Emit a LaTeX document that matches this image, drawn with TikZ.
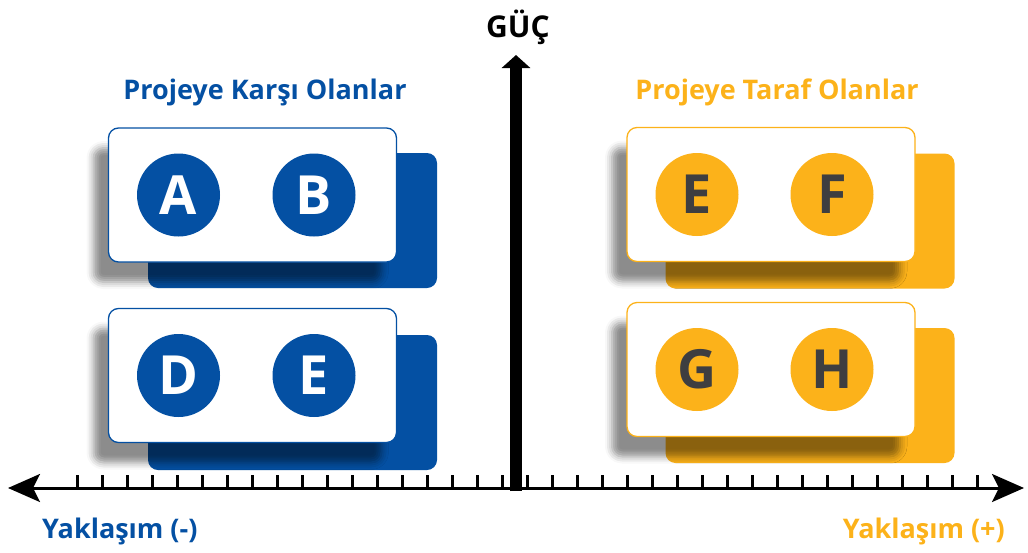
\documentclass[tikz,border=0pt]{standalone}
\usepackage{fontspec}
\setmainfont{Open Sans}
\usetikzlibrary{arrows.meta,positioning,shadows.blur}
\definecolor{stakeBlue}{RGB}{4,80,163}
\definecolor{stakeGold}{RGB}{252,178,26}
\definecolor{letterInk}{RGB}{62,62,64}
\tikzset{
  backpanel/.style={fill=#1, rounded corners=10pt, minimum width=289pt, minimum height=135pt, inner sep=0pt},
  card/.style={draw=#1, line width=1.3pt, fill=white, rounded corners=10pt, minimum width=288pt, minimum height=134pt, inner sep=0pt,
    blur shadow={shadow xshift=-15pt, shadow yshift=-20pt, shadow opacity=45, shadow blur radius=7pt}},
  badge/.style={circle, fill=#1, minimum size=83pt, inner sep=0pt, font=\fontsize{54}{54}\selectfont\bfseries},
  grouptitle/.style={anchor=base, inner sep=0pt, font=\fontsize{27}{27}\selectfont\bfseries},
  axislabel/.style={inner sep=0pt, font=\fontsize{27}{27}\selectfont\bfseries},
  axisline/.style={line width=3pt, {Stealth[length=32pt,width=28pt,inset=7pt]}-{Stealth[length=32pt,width=28pt,inset=7pt]}},
  poweraxis/.style={line width=12pt, -{Triangle[length=13pt,width=28pt]}},
  tick/.style={line width=3pt}
}

\begin{document}
\begin{tikzpicture}[x=1pt, y=-1pt]
  \useasboundingbox (0,0) rectangle (1028,552);
  % back panels
  \node[backpanel=stakeBlue] (backAB) at (292.5,220.5) {};
  \node[backpanel=stakeBlue] (backDE) at (292.5,402.5) {};
  \node[backpanel=stakeGold] (backEF) at (810,221) {};
  \node[backpanel=stakeGold] (backGH) at (810,395.5) {};
  % cards
  \node[card=stakeBlue] (cardAB) at (252.5,195) {};
  \node[card=stakeBlue] (cardDE) at (252.5,375.5) {};
  \node[card=stakeGold] (cardEF) at (771,194.5) {};
  \node[card=stakeGold] (cardGH) at (771,369.5) {};
  % badges
  \node[badge=stakeBlue, text=white, xshift=-74pt] (a) at (cardAB) {A};
  \node[badge=stakeBlue, text=white, xshift=61.5pt] (b) at (cardAB) {B};
  \node[badge=stakeBlue, text=white, xshift=-74pt] (d) at (cardDE) {D};
  \node[badge=stakeBlue, text=white, xshift=61.5pt] (e1) at (cardDE) {E};
  \node[badge=stakeGold, text=letterInk, xshift=-74pt] (e2) at (cardEF) {E};
  \node[badge=stakeGold, text=letterInk, xshift=61pt] (f) at (cardEF) {F};
  \node[badge=stakeGold, text=letterInk, xshift=-74pt] (g) at (cardGH) {G};
  \node[badge=stakeGold, text=letterInk, xshift=61pt] (h) at (cardGH) {H};
  % group titles
  \node[grouptitle, text=stakeBlue] (against) at (265,99) {Projeye Karşı Olanlar};
  \node[grouptitle, text=stakeGold] (support) at (777,99) {Projeye Taraf Olanlar};
  % axes
  \coordinate (xleft) at (8,488);
  \coordinate (xright) at (1024,488);
  \coordinate (origin) at (516,491);
  \coordinate (ytop) at (516,55);
  \foreach \tx in {77,102,...,977}
    \draw[tick] (\tx,475) -- (\tx,488);
  \draw[axisline] (xleft) -- (xright);
  \draw[poweraxis] (origin) -- (ytop);
  \node[axislabel, anchor=base, font=\fontsize{30}{30}\selectfont\bfseries] (power) at (518,37) {GÜÇ};
  \node[axislabel, anchor=base west, text=stakeBlue] (neg) at (42,538) {Yaklaşım (-)};
  \node[axislabel, anchor=base east, text=stakeGold] (pos) at (1005,538) {Yaklaşım (+)};
\end{tikzpicture}
\end{document}
